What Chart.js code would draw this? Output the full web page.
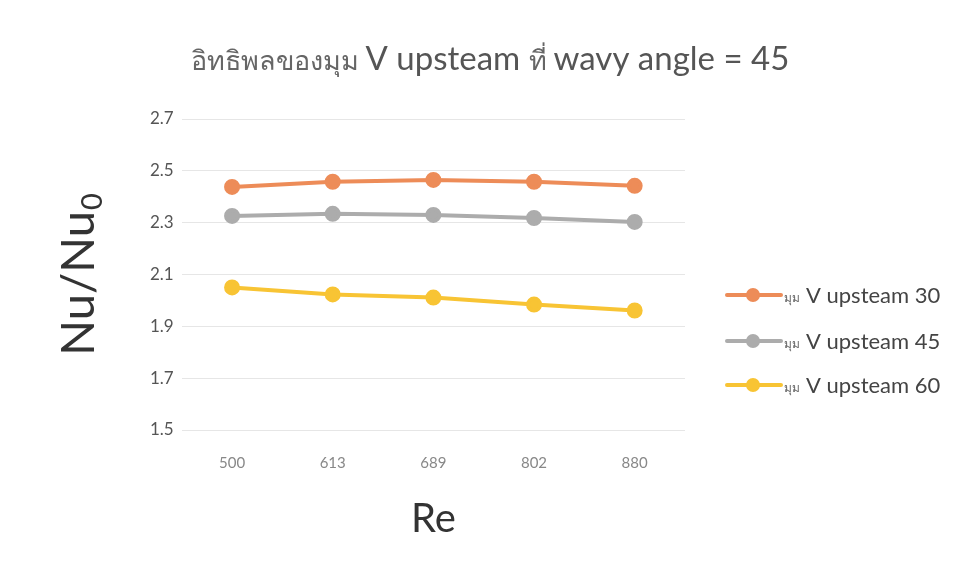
<!DOCTYPE html>
<html>
<head>
<meta charset="utf-8">
<script src="https://cdn.jsdelivr.net/npm/chart.js@4.4.1/dist/chart.umd.min.js"></script>
<style>
  html, body { margin: 0; padding: 0; background: #fff; }
  #wrap { width: 958px; height: 580px; position: relative; }
</style>
</head>
<body>
<div id="wrap"><canvas id="chart"></canvas></div>
<script>
reValues = ['500', '613', '689', '802', '880']
v30 = [2.438, 2.458, 2.465, 2.458, 2.442]
v45 = [2.326, 2.334, 2.330, 2.318, 2.303]
v60 = [2.050, 2.023, 2.011, 1.984, 1.961]
seriesThai = 'มุม'
seriesNames = ['V upsteam 30', 'V upsteam 45', 'V upsteam 60']
seriesColors = ['rgb(237,140,88)', 'rgb(172,172,172)', 'rgb(248,196,52)']
titleParts = [['อิทธิพลของมุม ', 27], ['V upsteam ', 33], ['ที่ ', 27], ['wavy angle = 45', 33]]

FONT = "Lato, 'Open Sans', 'DejaVu Sans', sans-serif"

// title drawn in runs so the Thai and Latin parts can differ in size
titlePlugin = {
    id: 'mixTitle',
    afterDraw(chart) {
        const c = chart.ctx
        c.save()
        c.textBaseline = 'alphabetic'
        let total = 0
        titleParts.forEach(p => { c.font = p[1] + 'px ' + FONT; total += c.measureText(p[0]).width })
        let x = 490 - total / 2
        titleParts.forEach(p => {
            c.font = p[1] + 'px ' + FONT
            c.fillStyle = p[1] < 30 ? '#666' : '#555'
            c.fillText(p[0], x, 70)
            x += c.measureText(p[0]).width
        })
        c.restore()
    }
}

// legend drawn by hand: line sample with a dot, then the label
legendPlugin = {
    id: 'sideLegend',
    afterDraw(chart) {
        const c = chart.ctx
        const ys = [295, 341, 385]
        chart.data.datasets.forEach((ds, i) => {
            const y = ys[i]
            c.save()
            c.strokeStyle = ds.borderColor
            c.lineWidth = 4
            c.lineCap = 'round'
            c.beginPath()
            c.moveTo(727, y)
            c.lineTo(781, y)
            c.stroke()
            c.fillStyle = ds.borderColor
            c.beginPath()
            c.arc(753, y, 7, 0, Math.PI * 2)
            c.fill()
            c.textBaseline = 'alphabetic'
            c.fillStyle = '#666'
            c.font = '12px ' + FONT
            c.fillText(seriesThai, 784, y + 7)
            c.fillStyle = '#444'
            c.font = '22px ' + FONT
            c.fillText(ds.label, 806, y + 8)
            c.restore()
        })
    }
}

// y title with a real subscript 0
yTitlePlugin = {
    id: 'yTitle',
    afterDraw(chart) {
        const c = chart.ctx
        c.save()
        c.translate(79, 275)
        c.rotate(-Math.PI / 2)
        c.fillStyle = '#333'
        c.textBaseline = 'middle'
        c.font = '47px ' + FONT
        const main = 'Nu/Nu'
        const w = c.measureText(main).width
        c.font = '29px ' + FONT
        const w0 = c.measureText('0').width
        const x0 = -(w + w0) / 2
        c.font = '47px ' + FONT
        c.fillText(main, x0, 0)
        c.font = '29px ' + FONT
        c.fillText('0', x0 + w + 1, 14)
        c.restore()
    }
}

config = {
    type: 'line',
    data: {
        labels: reValues,
        datasets: [v30, v45, v60].map((d, i) => ({
            label: seriesNames[i],
            data: d,
            borderColor: seriesColors[i],
            backgroundColor: seriesColors[i],
            borderWidth: 4,
            pointRadius: 6,
            pointHoverRadius: 6,
            tension: 0
        }))
    },
    options: {
        responsive: false,
        animation: false,
        layout: { padding: { left: 142, right: 273, top: 119, bottom: 33 } },
        plugins: {
            legend: { display: false },
            tooltip: { enabled: false },
            title: { display: false }
        },
        scales: {
            x: {
                offset: true,
                grid: { display: false },
                border: { display: false },
                ticks: { color: '#888', font: { family: FONT, size: 15 }, padding: 16 },
                title: {
                    display: true,
                    text: 'Re',
                    color: '#333',
                    font: { family: FONT, size: 40 },
                    padding: { top: 7 }
                }
            },
            y: {
                min: 1.5,
                max: 2.7,
                ticks: {
                    stepSize: 0.2,
                    color: '#555',
                    font: { family: FONT, size: 17 },
                    padding: 8,
                    callback: v => v.toFixed(1)
                },
                grid: { color: '#e6e6e6', drawTicks: false },
                border: { display: false }
            }
        }
    },
    plugins: [titlePlugin, legendPlugin, yTitlePlugin]
}

ctx = document.getElementById('chart')
ctx.width = 958
ctx.height = 580
new Chart(ctx, config)
</script>
</body>
</html>
